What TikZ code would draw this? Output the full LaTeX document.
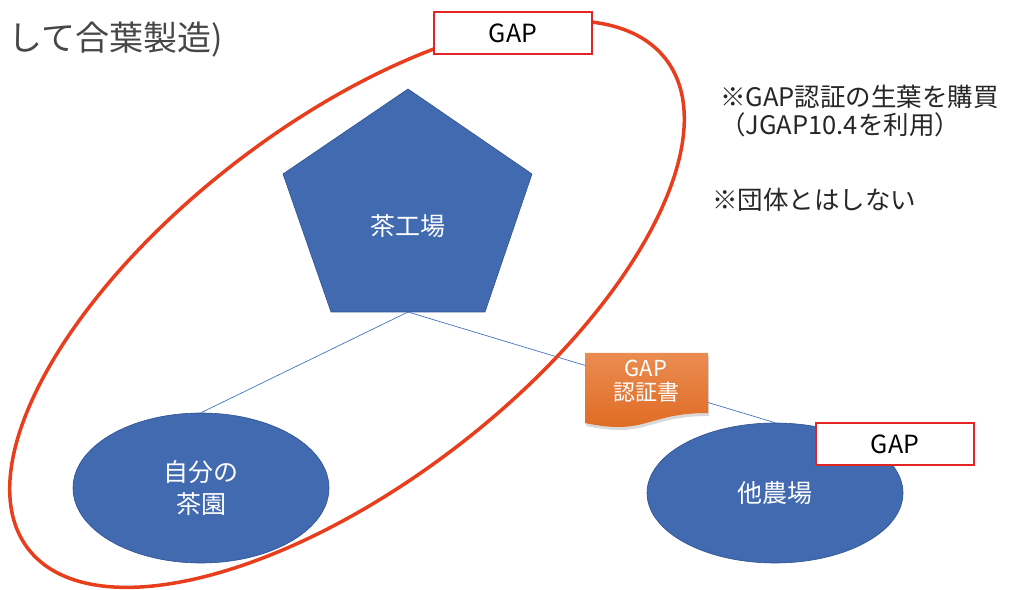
\documentclass[tikz,border=0pt]{standalone}
\usepackage{fontspec}
\setmainfont{Noto Sans CJK JP}
\usetikzlibrary{shapes.geometric,shadows}
\definecolor{farmblue}{RGB}{65,106,176}
\definecolor{farmedge}{RGB}{47,82,143}
\definecolor{gapred}{RGB}{232,62,30}
\definecolor{boxred}{RGB}{226,36,36}
\definecolor{linkblue}{RGB}{68,114,196}
\definecolor{certtop}{RGB}{234,140,82}
\definecolor{certbot}{RGB}{222,104,30}
\begin{document}
\begin{tikzpicture}[x=1pt,y=1pt,
		farm/.style={ellipse,fill=farmblue,draw=farmedge,line width=0.6pt,text=white,align=center,font=\fontsize{25}{32}\selectfont},
		gapbox/.style={draw=boxred,line width=1.5pt,fill=white,minimum width=158pt,minimum height=42pt,font=\fontsize{25}{30}\selectfont},
		link/.style={linkblue,line width=0.7pt},
		note/.style={right,inner sep=0pt,text=black!85,font=\fontsize{25.5}{30}\selectfont}]

		\useasboundingbox (0,0) rectangle (1011,589);

		\node [right,inner sep=0pt,text=black!72,font=\fontsize{34}{36}\selectfont] (title) at (8,549) {して合葉製造)};

		% tea factory
		\filldraw [fill=farmblue,draw=farmedge,line width=0.6pt] (408,500) -- (532,415) -- (485,277) -- (331,277) -- (283,415) -- cycle;
		\coordinate (factorybase) at (408,277);
		\node [text=white,font=\fontsize{25}{28}\selectfont] (factory) at (408,363) {茶工場};

		\node [farm,minimum width=256pt,minimum height=150pt] (own) at (201,101) {自分の\\茶園};
		\node [farm,minimum width=256pt,minimum height=140pt] (other) at (775,96) {他農場};

		\draw [link] (factorybase) -- (own.north);
		\draw [link] (factorybase) -- (other.north);

		\draw [gapred,line width=3.5pt,rotate around={37.5:(347,285)}] (347,285) ellipse [x radius=402,y radius=180];

		% certificate
		\path [drop shadow={opacity=0.3,shadow xshift=1pt,shadow yshift=-3pt},top color=certtop,bottom color=certbot]
			(585,236) -- (708,236) -- (708,176) .. controls (646.5,176) and (646.5,153) .. (585,166) -- cycle;
		\node [text=white,align=center,font=\fontsize{22}{24}\selectfont] (cert) at (646,208) {GAP\\認証書};

		\node [gapbox] (gaptop) at (513,556) {GAP};
		\node [gapbox] (gapfarm) at (895,145) {GAP};

		\node [note] (buy) at (720,492) {※GAP認証の生葉を購買};
		\node [note] (jgap) at (720,464) {（JGAP10.4を利用）};
		\node [note] (group) at (712,389) {※団体とはしない};
	\end{tikzpicture}
\end{document}
